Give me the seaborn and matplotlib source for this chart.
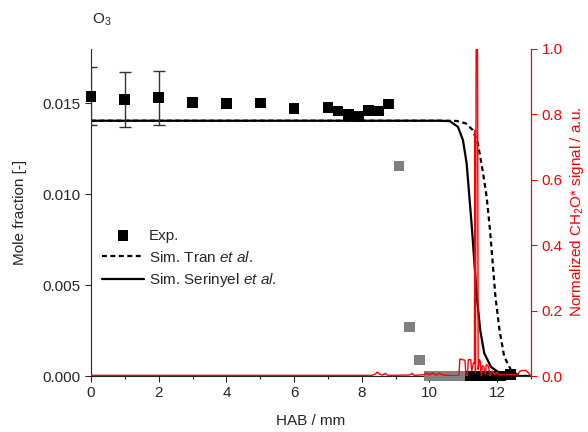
import numpy as np
import pandas as pd
import seaborn as sns
import matplotlib.pyplot as plt
from matplotlib.ticker import MultipleLocator, FormatStrFormatter

# Experimental O3 mole fractions (black squares)
exp_x = [0, 1, 2, 3, 4, 5, 6, 7, 7.3, 7.6, 7.9, 8.2, 8.5, 8.8,
         11.2, 11.5, 11.8, 12.1, 12.4]
exp_y = [0.01538, 0.0152, 0.01529, 0.01502, 0.01496, 0.0150, 0.01471,
         0.01474, 0.01456, 0.01438, 0.01425, 0.01459, 0.01456, 0.01495,
         0.0, 0.0, 0.0, 0.0, 0.0001]
err_x = [0, 1, 2]
err_y = [0.01538, 0.0152, 0.01529]
err_v = [0.0016, 0.0015, 0.0015]

# Experimental points in grey
gray_x = [9.1, 9.4, 9.7, 10.0, 10.3, 10.6, 10.9]
gray_y = [0.01154, 0.00269, 0.00088, 0.0, 0.0, 0.0, 0.0]

# Simulations
tran_x = [0, 10.5, 10.8, 11.08, 11.28, 11.43, 11.57, 11.69, 11.79, 11.87,
          11.95, 12.07, 12.21, 12.41, 12.66, 13.0]
tran_y = [0.01403, 0.01403, 0.01402, 0.01388, 0.01352, 0.01279, 0.01132,
          0.00985, 0.00802, 0.00619, 0.00436, 0.00253, 0.00106, 0.00033,
          0.0, 0.0]
ser_x = [0, 10.3, 10.6, 10.84, 10.99, 11.1, 11.18, 11.26, 11.33, 11.4,
         11.5, 11.62, 11.82, 12.16, 12.5, 13.0]
ser_y = [0.01403, 0.01403, 0.01401, 0.0137, 0.01297, 0.01168, 0.00985,
         0.00802, 0.00619, 0.00436, 0.00253, 0.00125, 0.0005, 0.00005,
         0.0, 0.0]

# Normalized CH2O* chemiluminescence signal
ch2o = [(0, 0.002), (8.3, 0.002), (8.4, 0.006), (8.46, 0.012), (8.52, 0.006),
        (8.6, 0.003), (8.7, 0.008), (8.75, 0.003), (8.8, 0.002), (9.4, 0.003),
        (9.49, 0.008), (9.55, 0.002), (9.85, 0.004), (9.9, 0.009), (10.0, 0.004),
        (10.1, 0.009), (10.2, 0.003), (10.3, 0.008), (10.4, 0.003), (10.87, 0.0),
        (10.9, 0.052), (11.05, 0.048), (11.08, 0.0), (11.12, 0.0), (11.15, 0.05),
        (11.22, 0.05), (11.25, 0.015), (11.3, 0.04), (11.33, 0.04), (11.34, 0.75),
        (11.36, 0.01), (11.38, 1.0), (11.42, 1.0), (11.44, 0.02), (11.47, 0.05),
        (11.5, 0.045), (11.53, 0.0), (11.56, 0.03), (11.6, 0.03), (11.65, 0.005),
        (11.68, 0.035), (11.75, 0.03), (11.78, 0.0), (11.85, 0.015), (11.95, 0.004),
        (12.0, 0.012), (12.05, 0.003), (12.2, 0.004), (12.6, 0.004), (12.68, 0.015),
        (12.75, 0.017), (12.85, 0.017), (12.92, 0.01), (13.0, 0.0)]
ch2o_x = [p[0] for p in ch2o]
ch2o_y = [p[1] for p in ch2o]

sns.set_style("ticks")
plt.rcParams['font.family'] = ['Liberation Sans', 'DejaVu Sans']
plt.rcParams['mathtext.fontset'] = 'custom'
plt.rcParams['mathtext.rm'] = 'Liberation Sans'
plt.rcParams['mathtext.it'] = 'Liberation Sans:italic'
plt.rcParams['font.size'] = 11

fig = plt.figure(figsize=(5.88, 4.32), dpi=100)
ax = fig.add_axes([0.1548, 0.1296, 0.7482, 0.7581])

sim = pd.DataFrame({"x": tran_x, "y": tran_y})
sim2 = pd.DataFrame({"x": ser_x, "y": ser_y})
sns.lineplot(data=sim, x="x", y="y", ax=ax, color="black", lw=1.6,
             linestyle=(0, (2.2, 1.6)), label=r"Sim. Tran $\it{et\ al.}$",
             sort=False)
sns.lineplot(data=sim2, x="x", y="y", ax=ax, color="black", lw=1.6,
             label=r"Sim. Serinyel $\it{et\ al.}$", sort=False)

ax.errorbar(err_x, err_y, yerr=err_v, fmt="none", ecolor="#333333",
            elinewidth=1, capsize=4, capthick=1, zorder=3)
sns.scatterplot(x=gray_x, y=gray_y, ax=ax, marker="s", s=60, color="#808080",
                edgecolor="none", clip_on=False, zorder=4)
sns.scatterplot(x=exp_x, y=exp_y, ax=ax, marker="s", s=60, color="black",
                edgecolor="none", clip_on=False, zorder=5, label="Exp.")

ax.set_xlim(0, 13)
ax.set_ylim(0, 0.018)
ax.xaxis.set_major_locator(MultipleLocator(2))
ax.xaxis.set_minor_locator(MultipleLocator(1))
ax.set_yticks([0, 0.005, 0.010, 0.015])
ax.yaxis.set_major_formatter(FormatStrFormatter("%.3f"))
ax.tick_params(which="major", length=4, width=0.8, labelsize=11)
ax.tick_params(which="minor", length=2.5, width=0.8)
ax.set_xlabel("HAB / mm", fontsize=11, labelpad=10)
ax.set_ylabel("Mole fraction [-]", fontsize=11, labelpad=11)
ax.spines["top"].set_visible(False)
for s in ["left", "bottom"]:
    ax.spines[s].set_linewidth(0.8)

handles, labels = ax.get_legend_handles_labels()
order = [labels.index("Exp."), 0, 1]
ax.legend([handles[i] for i in order], [labels[i] for i in order],
          loc="center left", bbox_to_anchor=(0.01, 0.357), frameon=False,
          handlelength=2.8, handletextpad=0.3, labelspacing=0.45, fontsize=11,
          borderaxespad=0)

ax.text(0.002, 1.087, "O$_3$", transform=ax.transAxes, ha="left",
        va="center", fontsize=11)

ax2 = ax.twinx()
sig = pd.DataFrame({"x": ch2o_x, "y": ch2o_y})
sns.lineplot(data=sig, x="x", y="y", ax=ax2, color="red", lw=1.0, sort=False)
ax2.set_ylim(0, 1.0)
ax2.set_yticks(np.arange(0, 1.01, 0.2))
ax2.yaxis.set_major_formatter(FormatStrFormatter("%.1f"))
ax2.set_ylabel("Normalized CH$_2$O* signal / a.u.", color="red", fontsize=11)
ax2.tick_params(axis="y", colors="red", length=4, width=0.8, labelsize=11)
ax2.spines["right"].set_color("red")
ax2.spines["right"].set_linewidth(0.8)
ax2.spines["top"].set_visible(False)
ax2.spines["left"].set_visible(False)
ax2.spines["bottom"].set_visible(False)

fig.savefig("out.png", dpi=100)
